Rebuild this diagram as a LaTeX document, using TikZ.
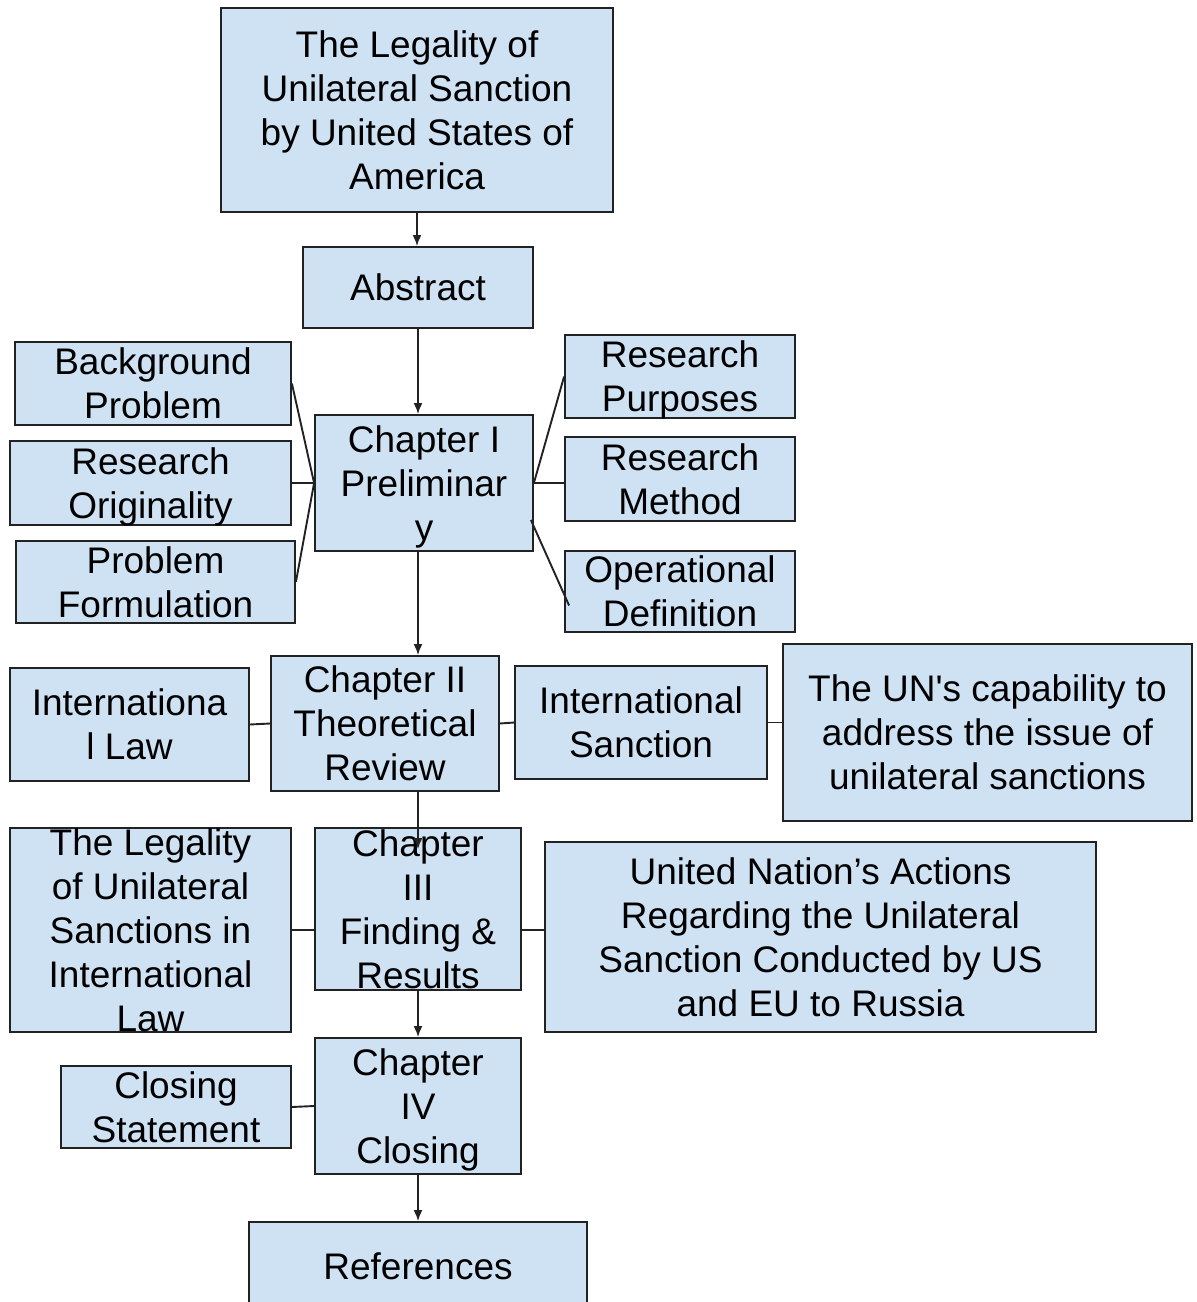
\documentclass[tikz,border=0pt]{standalone}
\usepackage{fontspec}
\setmainfont{Liberation Sans}
\usepackage{xcolor}
\usetikzlibrary{arrows.meta,positioning}
\definecolor{boxblue}{HTML}{CFE2F3}
\definecolor{edge}{HTML}{222222}
\newcommand{\boxlines}[1]{\raisebox{-10.5pt}[0pt][0pt]{\begin{tabular}{@{}c@{}}#1\end{tabular}}}

\begin{document}
\begin{tikzpicture}[x=1pt,y=-1pt,>={Latex[length=11pt,width=9pt]},
  box/.style={draw=edge,fill=boxblue,line width=1.8pt,inner sep=0pt,font=\fontsize{37}{44}\selectfont},
  dims/.style 2 args={minimum width=#1pt,minimum height=#2pt},
  link/.style={draw=edge,line width=1.9pt}]
\useasboundingbox (0,0) rectangle (1197,1302);
\clip (0,0) rectangle (1197,1302);

\node[box,dims={392}{204}] (title) at (417,110) {\boxlines{The Legality of\\Unilateral Sanction\\by United States of\\America}};
\node[box,dims={230}{81}] (abstract) at (418,287.5) {\boxlines{Abstract}};
\node[box,dims={218}{136}] (chI) at (424,483) {\boxlines{Chapter I\\Preliminar\\y}};
\node[box,dims={276}{83}] (bgprob) at (153,383.5) {\boxlines{Background\\Problem}};
\node[box,dims={281}{84}] (origin) at (150.5,483) {\boxlines{Research\\Originality}};
\node[box,dims={279}{82}] (formul) at (155.5,582) {\boxlines{Problem\\Formulation}};
\node[box,dims={230}{83}] (purpose) at (680,376.5) {\boxlines{Research\\Purposes}};
\node[box,dims={230}{84}] (method) at (680,479) {\boxlines{Research\\Method}};
\node[box,dims={230}{81}] (opdef) at (680,591.5) {\boxlines{Operational\\Definition}};
\node[box,dims={228}{135}] (chII) at (385,723.5) {\boxlines{Chapter II\\Theoretical\\Review}};
\node[box,dims={239}{113}] (intlaw) at (129.5,724.5) {\boxlines{Internationa\\l Law}};
\node[box,dims={252}{113}] (intsanc) at (641,722.5) {\boxlines{International\\Sanction}};
\node[box,dims={409}{177}] (uncap) at (987.5,732.5) {\boxlines{The UN\textquotesingle s capability to\\address the issue of\\unilateral sanctions}};
\node[box,dims={206}{162}] (chIII) at (418,909) {\boxlines{Chapter\\III\\Finding \&\\Results}};
\node[box,dims={281}{204}] (legal) at (150.5,930) {\boxlines{The Legality\\of Unilateral\\Sanctions in\\International\\Law}};
\node[box,dims={551}{190}] (unact) at (820.5,937) {\boxlines{United Nation’s Actions\\Regarding the Unilateral\\Sanction Conducted by US\\and EU to Russia}};
\node[box,dims={206}{136}] (chIV) at (418,1106) {\boxlines{Chapter\\IV\\Closing}};
\node[box,dims={230}{82}] (closing) at (176,1107) {\boxlines{Closing\\Statement}};
\node[box,dims={338}{88}] (refs) at (418,1266) {\boxlines{References}};

\draw[link,->] (title.south) -- (title.south |- abstract.north);
\draw[link,->] (abstract.south) -- (chI.north -| abstract.south);
\draw[link,->] (chI.south -| abstract.south) -- (chII.north -| abstract.south);
\draw[link,->] (chII.south -| abstract.south) -- ([yshift=-22pt]chIII.north);
\draw[link,->] (chIII.south) -- (chIV.north);
\draw[link,->] (chIV.south) -- (refs.north);

\draw[link] (bgprob.east) -- (chI.west);
\draw[link] (origin.east) -- (chI.west);
\draw[link] (formul.east) -- (chI.west);
\draw[link] (chI.east) -- (purpose.west);
\draw[link] (chI.east) -- (chI.east -| method.west);
\draw[link] ([shift={(-3,37)}]chI.east) -- ([shift={(5,14)}]opdef.west);
\draw[link] (intlaw.east) -- (chII.west);
\draw[link] (chII.east) -- (intsanc.west);
\draw[link] (intsanc.east) -- (intsanc.east -| uncap.west);
\draw[link] (legal.east) -- (legal.east -| chIII.west);
\draw[link] (chIII.east |- legal.east) -- (unact.west |- legal.east);
\draw[link] (closing.east) -- (chIV.west);
\end{tikzpicture}
\end{document}
